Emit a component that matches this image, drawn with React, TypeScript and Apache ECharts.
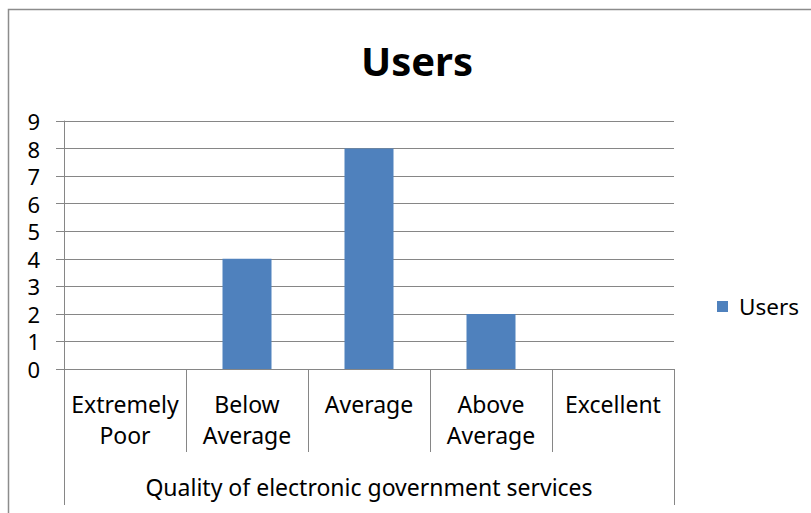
import React, { useEffect, useRef } from "react";
import * as echarts from "echarts";

const categories = ["Extremely\nPoor", "Below\nAverage", "Average", "Above\nAverage", "Excellent"];
const users = [0, 4, 8, 2, 0];
const groupLabel = ["Quality of electronic government services"];
const seriesName = "Users";
const titleText = "Users";

const FONT = "'Noto Sans', sans-serif";
const GRAY = "#868686";

export default function App() {
  const ref = useRef<HTMLDivElement>(null);
  useEffect(() => {
    const chart = echarts.init(ref.current!, null, { renderer: "svg" });
    chart.setOption({
      animation: false,
      backgroundColor: "#fff",
      textStyle: { fontFamily: FONT },
      title: {
        text: titleText,
        left: 412,
        textAlign: "center",
        top: 35,
        textStyle: { fontFamily: FONT, fontSize: 40, fontWeight: "bold", color: "#000" },
      },
      legend: {
        data: [seriesName],
        left: 712,
        top: 290,
        itemWidth: 11,
        itemHeight: 11,
        itemGap: 10,
        icon: "rect",
        textStyle: { fontFamily: FONT, fontSize: 22.5, color: "#000", padding: [0, 0, 0, 6] },
      },
      grid: { left: 64, right: 137, top: 121, bottom: 144 },
      xAxis: [
        {
          type: "category",
          data: categories,
          position: "bottom",
          axisLine: { show: true, lineStyle: { color: GRAY, width: 1 } },
          axisTick: { show: true, length: 83, lineStyle: { color: GRAY, width: 1 } },
          axisLabel: {
            interval: 0,
            margin: 19,
            fontFamily: FONT,
            fontSize: 23,
            lineHeight: 31,
            color: "#000",
            align: "center",
          },
        },
        {
          type: "category",
          data: groupLabel,
          position: "bottom",
          axisLine: { show: false },
          axisTick: { show: true, length: 136, lineStyle: { color: GRAY, width: 1 } },
          axisLabel: {
            interval: 0,
            margin: 102,
            fontFamily: FONT,
            fontSize: 23,
            lineHeight: 31,
            color: "#000",
          },
        },
      ],
      yAxis: {
        type: "value",
        min: 0,
        max: 9,
        interval: 1,
        axisLine: { show: true, lineStyle: { color: GRAY, width: 1 } },
        axisTick: { show: true, length: 8, lineStyle: { color: GRAY, width: 1 } },
        splitLine: { show: true, lineStyle: { color: GRAY, width: 1 } },
        axisLabel: { margin: 24, fontFamily: FONT, fontSize: 22, color: "#000" },
      },
      series: [
        {
          name: seriesName,
          type: "bar",
          xAxisIndex: 0,
          data: users,
          barWidth: 49,
          itemStyle: { color: "#4F81BD" },
        },
      ],
      graphic: [
        {
          type: "rect",
          shape: { x: 8.5, y: 9.5, width: 900, height: 700 },
          style: { fill: "none", stroke: "#8c8c8c", lineWidth: 1.5 },
          silent: true,
        },
      ],
    });
    return () => chart.dispose();
  }, []);
  return (
    <div
      ref={ref}
      style={{ position: "absolute", left: 0, top: 0, width: 811, height: 513 }}
    />
  );
}
